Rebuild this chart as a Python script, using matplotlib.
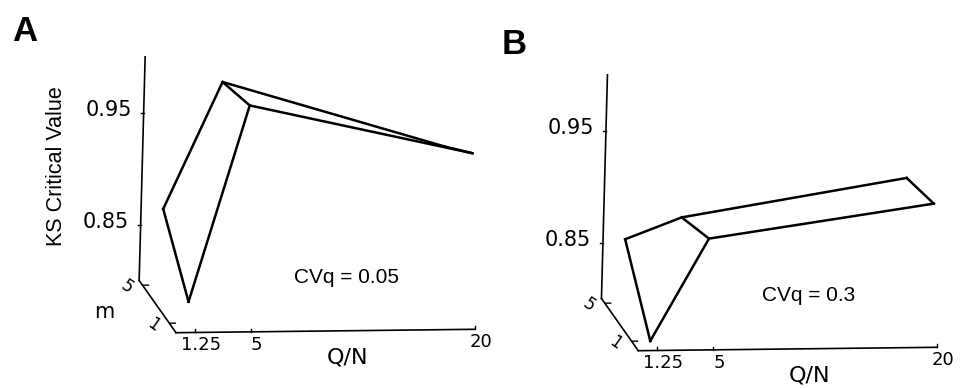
import numpy as np
import matplotlib
matplotlib.use("Agg")
import matplotlib.pyplot as plt

# grid of the two surfaces
qn = [1.25, 5, 20]
m_vals = [1, 5]

# KS critical values (rows: m = 1, m = 5)
ks_a_m1 = [0.819, 0.994, 0.949]
ks_a_m5 = [0.868, 0.981, 0.921]
ks_b_m1 = [0.800, 0.891, 0.920]
ks_b_m5 = [0.857, 0.876, 0.909]

z_ticks = [0.85, 0.95]
z_tick_labels = ["0.85", "0.95"]
q_ticks = [1.25, 5, 20]
q_tick_labels = ["1.25", "5", "20"]
m_ticks = [1, 5]
m_tick_labels = ["1", "5"]

# axis ranges of the 3d box
Q_MAX, M_MAX, Z_MIN, Z_MAX = 20, 5.5, 0.8, 1.0

# oblique projection (pixels per data unit, y points down)
EQ = np.array([14.93, -0.17])
EM = np.array([-6.7, -9.5])
EZ = np.array([30.0, -1118.0])

SERIF = "DejaVu Sans"
SANS = "Liberation Sans"


def proj(origin, q, m, z):
    q = np.asarray(q, dtype=float)
    m = np.asarray(m, dtype=float)
    z = np.asarray(z, dtype=float)
    x = origin[0] + q * EQ[0] + m * EM[0] + (z - Z_MIN) * EZ[0]
    y = origin[1] + q * EQ[1] + m * EM[1] + (z - Z_MIN) * EZ[1]
    return x, y


def draw_panel(ax, origin, rows, cv_text, full_labels):
    # box axes
    lw_ax = 1.2
    x, y = proj(origin, [0, Q_MAX], [0, 0], [Z_MIN, Z_MIN])
    ax.plot(x, y, color="black", lw=lw_ax)
    x, y = proj(origin, [0, 0], [0, M_MAX], [Z_MIN, Z_MIN])
    ax.plot(x, y, color="black", lw=lw_ax)
    x, y = proj(origin, [0, 0], [M_MAX, M_MAX], [Z_MIN, Z_MAX])
    ax.plot(x, y, color="black", lw=lw_ax)

    # z ticks
    for zt, lab in zip(z_ticks, z_tick_labels):
        tx, ty = proj(origin, 0, M_MAX, zt)
        ax.plot([tx - 3, tx], [ty, ty], color="black", lw=1)
        ax.text(tx - 12, ty - 3, lab, ha="right", va="center",
                fontsize=15, family=SERIF)

    # Q/N ticks
    for qt, lab in zip(q_ticks, q_tick_labels):
        tx, ty = proj(origin, qt, 0, Z_MIN)
        ax.plot([tx, tx], [ty, ty - 3], color="black", lw=1)
        ax.text(tx + 6, ty + 4, lab, ha="center", va="top",
                fontsize=13, family=SERIF)

    # m ticks
    for mt, lab in zip(m_ticks, m_tick_labels):
        tx, ty = proj(origin, [0, 0.4], [mt, mt], [Z_MIN, Z_MIN])
        ax.plot(tx, ty, color="black", lw=1)
        ax.text(tx[0] - 16, ty[0] + 2, lab, ha="center", va="center",
                fontsize=12, family=SERIF, rotation=-35)

    # surface wireframe
    for zs, mv in zip(rows, m_vals):
        x, y = proj(origin, qn, [mv] * len(qn), zs)
        ax.plot(x, y, color="black", lw=1.8, solid_joinstyle="miter")
    for i, q in enumerate(qn):
        x, y = proj(origin, [q, q], m_vals, [rows[0][i], rows[1][i]])
        ax.plot(x, y, color="black", lw=1.8)

    # axis titles
    ax.text(origin[0] + 171, origin[1] + 25, "Q/N", ha="center", va="center",
            fontsize=16, family=SERIF)
    ax.text(origin[0] + 170, origin[1] - 55, cv_text, ha="center", va="center",
            fontsize=15, family=SANS)
    if full_labels:
        mx, my = proj(origin, 0, M_MAX / 2, Z_MIN)
        ax.text(mx - 53, my + 5, "m", ha="center", va="center",
                fontsize=15, family=SERIF)
        zx, zy = proj(origin, 0, M_MAX, (Z_MIN + Z_MAX) / 2)
        ax.text(zx - 86, zy - 3, "KS Critical Value", ha="center", va="center",
                rotation=90, fontsize=15.5, family=SANS)


fig = plt.figure(figsize=(9.6, 3.88), dpi=100)
ax = fig.add_axes([0, 0, 1, 1])
ax.set_xlim(0, 960)
ax.set_ylim(388, 0)
ax.axis("off")

draw_panel(ax, (176, 332.7), [ks_a_m1, ks_a_m5], "CVq = 0.05", True)
draw_panel(ax, (638.3, 350.7), [ks_b_m1, ks_b_m5], "CVq = 0.3", False)

# panel letters
ax.text(12, 15, "A", ha="left", va="top", fontsize=25, fontweight="bold", family=SANS)
ax.text(502, 28, "B", ha="left", va="top", fontsize=25, fontweight="bold", family=SANS)

fig.savefig("out.png", dpi=100)
